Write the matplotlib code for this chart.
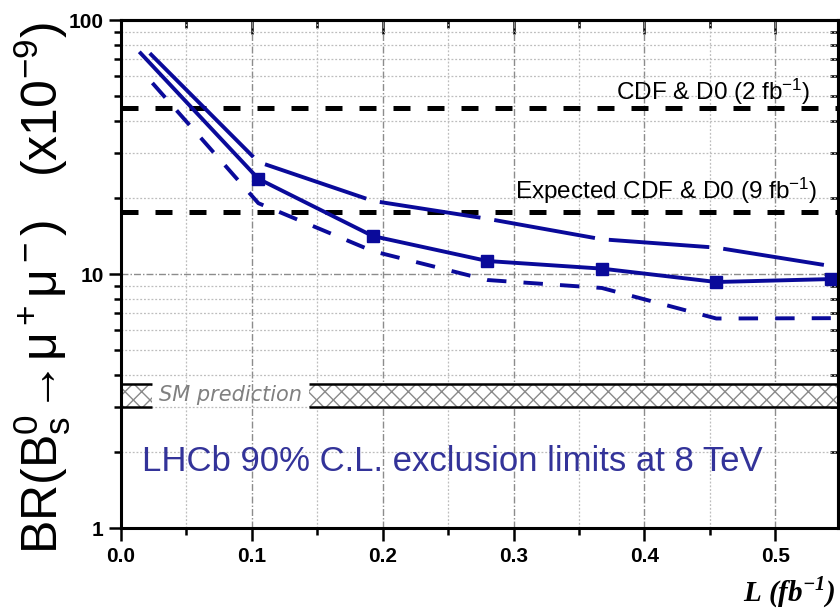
import matplotlib
matplotlib.use('Agg')
import matplotlib.pyplot as plt
import numpy as np
from matplotlib.ticker import LogLocator, FixedLocator, MultipleLocator, NullFormatter, FuncFormatter

plt.rcParams['font.family'] = ['Liberation Sans', 'DejaVu Sans']
plt.rcParams['mathtext.fontset'] = 'custom'
plt.rcParams['mathtext.rm'] = 'Liberation Sans'
plt.rcParams['mathtext.it'] = 'Liberation Sans:italic'
plt.rcParams['mathtext.bf'] = 'Liberation Sans:bold'
plt.rcParams['hatch.linewidth'] = 1.0

# luminosity points (fb^-1) and 90% CL limits (x1e-9)
lumi_obs = [0.015, 0.105, 0.1925, 0.28, 0.3675, 0.455, 0.5425]
lim_obs = [74, 23.7, 14.1, 11.25, 10.5, 9.3, 9.55]
lumi_up = [0.022, 0.105, 0.1925, 0.28, 0.3675, 0.455, 0.5425]
lim_up = [74, 27.6, 19.4, 16.5, 13.7, 12.7, 10.75]
lumi_low = [0.024, 0.105, 0.1925, 0.28, 0.3675, 0.455, 0.5425]
lim_low = [56.5, 19.0, 12.3, 9.47, 8.81, 6.68, 6.7]

# reference limits
cdf_now = 45.0
cdf_exp = 17.5
sm_lo, sm_hi = 3.0, 3.7
sm_gap = (0.024, 0.144)

xmax = 0.548
blue = '#0a0a9a'
lw_blue = 2.8
DPI = 100

fig = plt.figure(figsize=(8.4, 6.09), dpi=DPI)
ax = fig.add_axes([121/840, 81/609, 717/840, 508/609])
ax.set_yscale('log')
ax.set_xlim(0, xmax)
ax.set_ylim(1, 100)

# grid
ax.grid(True, which='major', axis='both', color='#8c8c8c', lw=1.0, dashes=(5, 1.5, 1, 1.5))
ax.grid(True, which='minor', axis='both', color='#bdbdbd', lw=0.9, dashes=(1.5, 1.5))
ax.set_axisbelow(True)

# SM band (hatched, broken where the label sits)
for x0, x1 in [(0, sm_gap[0]), (sm_gap[1], xmax)]:
    ax.fill_between([x0, x1], sm_lo, sm_hi, facecolor='white', edgecolor='#8a8a8a',
                    hatch='xx', linewidth=0, zorder=2)
    ax.hlines([sm_lo, sm_hi], x0, x1, colors='black', lw=1.8, zorder=3)
ax.text(sum(sm_gap) / 2, 3.34, 'SM prediction', family='DejaVu Sans', style='italic',
        color='#808080', fontsize=15, ha='center', va='center', zorder=3)

# CDF & D0 lines
for yv in (cdf_now, cdf_exp):
    ax.axhline(yv, color='black', lw=3.6, dashes=(3.4, 3.4), dash_capstyle='butt', zorder=3)
ax.text(0.527, 48.5, 'CDF & D0 (2 fb$^{\\mathregular{-1}}$)', fontsize=17.5, ha='right', va='baseline')
ax.text(0.532, 19.7, 'Expected CDF & D0 (9 fb$^{\\mathregular{-1}}$)', fontsize=17.5, ha='right', va='baseline')


def vertex_gaps(xs, ys, gap_px=14):
    # dash pattern that leaves a small gap at every vertex of the polyline
    pts = ax.transData.transform(np.column_stack([xs, ys]))
    seg = np.hypot(*np.diff(pts, axis=0).T)
    unit = lw_blue * DPI / 72.0
    pat = []
    for i, L in enumerate(seg):
        on = L - gap_px / 2 - (gap_px / 2 if i > 0 else 0)
        pat += [on / unit, gap_px / unit]
    return pat


# LHCb curves
ax.plot(lumi_up, lim_up, color=blue, lw=lw_blue, dashes=vertex_gaps(lumi_up, lim_up),
        dash_capstyle='butt', zorder=4)
ax.plot(lumi_low, lim_low, color=blue, lw=lw_blue, dashes=(5, 4.4), dash_capstyle='butt', zorder=4)
ax.plot(lumi_obs, lim_obs, color=blue, lw=lw_blue, marker='s', ms=8, markevery=slice(1, None),
        zorder=5, clip_on=False)

ax.text(0.016, 1.82, 'LHCb 90% C.L. exclusion limits at 8 TeV', color='#333399',
        fontsize=25, ha='left', va='center')

# axes, ticks
for s in ax.spines.values():
    s.set_linewidth(2.2)
    s.set_zorder(6)
ax.xaxis.set_major_locator(MultipleLocator(0.1))
ax.xaxis.set_minor_locator(MultipleLocator(0.05))
ax.xaxis.set_major_formatter(FuncFormatter(lambda v, p: '%.1f' % v))
ax.yaxis.set_major_locator(FixedLocator([1, 10, 100]))
ax.yaxis.set_minor_locator(LogLocator(base=10, subs=range(2, 10)))
ax.yaxis.set_major_formatter(FuncFormatter(lambda v, p: '%d' % v))
ax.yaxis.set_minor_formatter(NullFormatter())
ax.tick_params(which='both', direction='out', width=1.8, labelsize=15)
ax.tick_params(which='major', length=9)
ax.tick_params(which='minor', length=5)
ax.tick_params(axis='x', pad=5)
for lab in ax.get_xticklabels() + ax.get_yticklabels():
    lab.set_fontweight('bold')

# inward ticks on top and right
top = ax.secondary_xaxis('top')
top.xaxis.set_major_locator(MultipleLocator(0.1))
top.xaxis.set_minor_locator(MultipleLocator(0.05))
top.tick_params(which='both', direction='in', width=1.8, labeltop=False)
top.tick_params(which='major', length=10)
top.tick_params(which='minor', length=6)
top.spines['top'].set_linewidth(2.2)
right = ax.secondary_yaxis('right')
right.yaxis.set_major_locator(FixedLocator([1, 10, 100]))
right.yaxis.set_minor_locator(LogLocator(base=10, subs=range(2, 10)))
right.tick_params(which='both', direction='in', width=1.8, labelright=False)
right.tick_params(which='major', length=10)
right.tick_params(which='minor', length=6)
right.spines['right'].set_linewidth(2.2)

fig.text(42/840, 1 - 288/609,
         '$\\mathregular{BR(B_s^0\\!\\rightarrow\\!\\mu^+\\mu^-)\\ \\ \\ (x10^{-9})}$',
         rotation=90, fontsize=36, ha='center', va='center')
fig.text(836/840, 1 - 601/609, 'L (fb$^{\\mathregular{-1}}$)', family='Liberation Serif',
         weight='bold', style='italic', fontsize=21, ha='right', va='baseline')

fig.savefig('out.png', dpi=DPI)
